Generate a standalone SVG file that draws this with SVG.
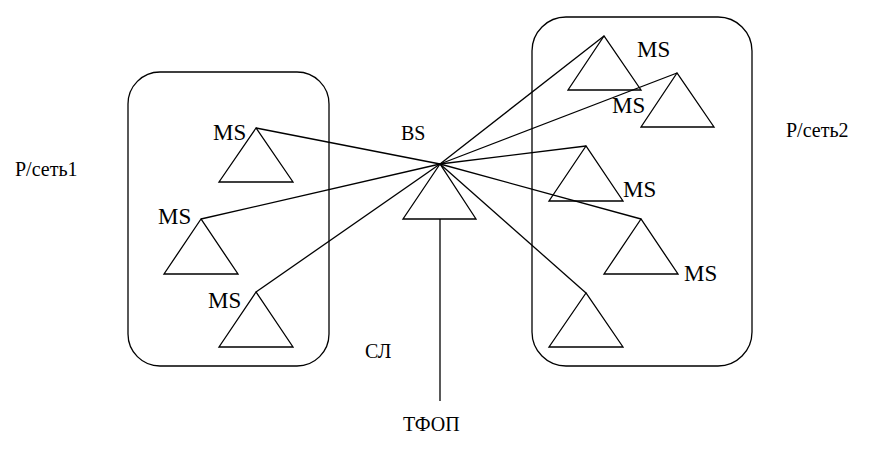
<svg xmlns="http://www.w3.org/2000/svg" width="869" height="451" viewBox="0 0 869 451">
<style>
.box{fill:none;stroke:#000;stroke-width:1.3}
.tri{fill:none;stroke:#000;stroke-width:1.3}
.ln{stroke:#000;stroke-width:1.3;fill:none}
.ms{font-size:23px}
.lb{font-size:20px}
</style>
<rect width="869" height="451" fill="#fff"/>
<g id="net1"><rect class="box" x="128" y="72" width="201" height="294" rx="32" ry="32"/></g>
<g id="net2"><rect class="box" x="532" y="17" width="220" height="349" rx="34" ry="34"/></g>
<g id="connectors">
<line class="ln" x1="440" y1="164" x2="256" y2="128"/>
<line class="ln" x1="440" y1="164" x2="201" y2="219"/>
<line class="ln" x1="440" y1="164" x2="256" y2="292"/>
<line class="ln" x1="440" y1="164" x2="604" y2="36"/>
<line class="ln" x1="440" y1="164" x2="677" y2="73"/>
<line class="ln" x1="440" y1="164" x2="586" y2="146"/>
<line class="ln" x1="440" y1="164" x2="641" y2="219"/>
<line class="ln" x1="440" y1="164" x2="586" y2="293"/>
<line class="ln" x1="440" y1="219" x2="440" y2="401"/>
</g>
<g font-family="Liberation Serif, DejaVu Serif, serif" fill="#000">
<g id="bs"><polygon class="tri" points="440,164 403,219 476,219"/><text class="lb" x="401" y="140">BS</text></g>
<g id="ms-l1"><polygon class="tri" points="256,128 219,182 293,182"/><text class="ms" x="213" y="140">MS</text></g>
<g id="ms-l2"><polygon class="tri" points="201,219 164,274 238,274"/><text class="ms" x="158" y="224">MS</text></g>
<g id="ms-l3"><polygon class="tri" points="256,292 219,347 293,347"/><text class="ms" x="208" y="308">MS</text></g>
<g id="ms-r1"><polygon class="tri" points="604,36 568,90 641,90"/><text class="ms" x="637" y="57">MS</text></g>
<g id="ms-r2"><polygon class="tri" points="677,73 641,127 714,127"/><text class="ms" x="612" y="113">MS</text></g>
<g id="ms-r3"><polygon class="tri" points="586,146 549,201 623,201"/><text class="ms" x="623" y="197">MS</text></g>
<g id="ms-r4"><polygon class="tri" points="641,219 604,274 678,274"/><text class="ms" x="684" y="281">MS</text></g>
<g id="ms-r5"><polygon class="tri" points="586,293 549,347 623,347"/></g>
<g id="labels">
<text class="lb" x="15" y="176">Р/сеть1</text>
<text class="lb" x="786" y="137">Р/сеть2</text>
<text class="lb" x="365" y="358">СЛ</text>
<text class="lb" x="403" y="431">ТФОП</text>
</g>
</g>
</svg>
